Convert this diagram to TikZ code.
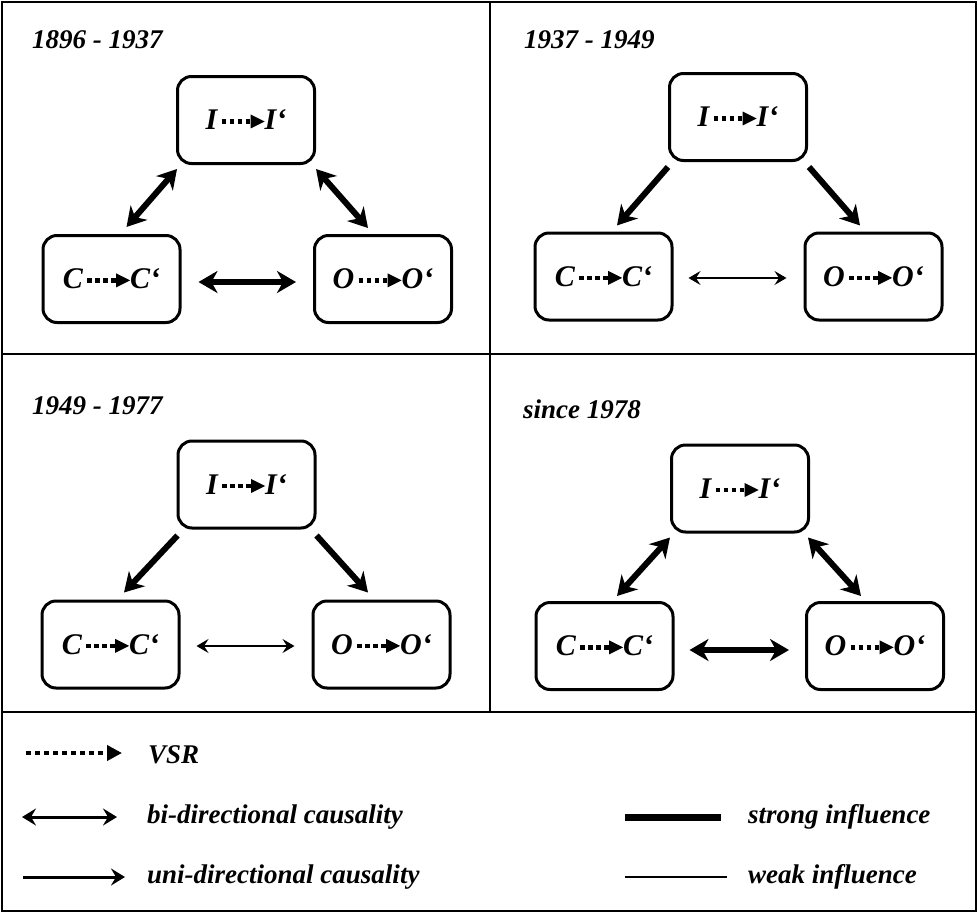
\documentclass[tikz,border=0pt]{standalone}
\usepackage{fontspec}
\setmainfont{Liberation Serif}
\usetikzlibrary{arrows.meta,calc}

\newcommand{\vsrdots}{\tikz[baseline=-8.5pt,x=1pt,y=1pt,sharp corners]{%
  \draw[line width=4.5pt,dash pattern=on 4.5pt off 3.5pt,line cap=butt] (0,0) -- (29,0);
  \fill[draw=none] (29,-7) -- (43,0) -- (29,7) -- cycle;}}
\newcommand{\boxlabel}[1]{#1\hspace{2pt}\vsrdots\hspace{0pt}#1‘}

\tikzset{
  BigS/.tip={Stealth[length=19pt,width=22pt,inset=6pt]},
  SmS/.tip={Stealth[length=12pt,width=14pt,inset=4.5pt]},
  LegS/.tip={Stealth[length=14pt,width=17pt,inset=5pt]},
  VsrT/.tip={Triangle[length=15pt,width=15pt]},
  box/.style={draw,line width=3pt,rounded corners=14pt,minimum width=137pt,
    minimum height=87pt,inner sep=0pt,
    font=\fontsize{30}{30}\selectfont\bfseries\itshape},
  title/.style={anchor=base west,inner sep=0pt,
    font=\fontsize{27}{27}\selectfont\bfseries\itshape},
  legtext/.style={anchor=base west,inner sep=0pt,
    font=\fontsize{27}{27}\selectfont\bfseries\itshape},
  frame/.style={line width=2.5pt},
  strongbi/.style={line width=6pt,BigS-BigS},
  stronguni/.style={line width=6pt,-BigS},
  weakbi/.style={line width=1.6pt,SmS-SmS},
  legbi/.style={line width=3pt,LegS-LegS},
  leguni/.style={line width=3pt,-LegS},
  legvsr/.style={line width=4.5pt,dash pattern=on 4.5pt off 4.5pt,-VsrT},
}

\begin{document}
\begin{tikzpicture}[x=1pt,y=-1pt]
\useasboundingbox (0,0) rectangle (978,913);
\fill[white] (0,0) rectangle (978,913);

% frame
\draw[frame] (2,2) rectangle (976,911);
\draw[frame] (2,354) -- (976,354);
\draw[frame] (2,712) -- (976,712);
\draw[frame] (490,2) -- (490,712);

% ---------- panel 1 ----------
\node[title] (t1) at (32,48) {1896 - 1937};
\node[box] (I1) at (246,120) {\boxlabel{I}};
\node[box] (C1) at (111.5,279) {\boxlabel{C}};
\node[box] (O1) at (383,279) {\boxlabel{O}};
\draw[strongbi] ($(C1.north)+(15,-7)$) -- ($(I1.south west)+(1,4)$);
\draw[strongbi] ($(I1.south east)+(0,4)$) -- ($(O1.north)+(-15,-6)$);
\draw[strongbi] ($(C1.east)+(17,3)$) -- ($(O1.west)+(-17,3)$);

% ---------- panel 2 ----------
\node[title] (t2) at (524,48) {1937 - 1949};
\node[box] (I2) at (738,117) {\boxlabel{I}};
\node[box] (C2) at (603.5,276.5) {\boxlabel{C}};
\node[box] (O2) at (873.5,276.5) {\boxlabel{O}};
\draw[stronguni] ($(I2.south west)+(0,5)$) -- ($(C2.north)+(13.5,-6)$);
\draw[stronguni] ($(I2.south east)+(1,5)$) -- ($(O2.north)+(-13.5,-6)$);
\draw[weakbi] ($(C2.east)+(15,1.5)$) -- ($(O2.west)+(-17,1.5)$);

% ---------- panel 3 ----------
\node[title] (t3) at (32,414) {1949 - 1977};
\node[box] (I3) at (246.5,484.5) {\boxlabel{I}};
\node[box] (C3) at (110.5,644.5) {\boxlabel{C}};
\node[box] (O3) at (381.5,644.5) {\boxlabel{O}};
\draw[stronguni] ($(I3.south west)+(1,6)$) -- ($(C3.north)+(13.5,-7)$);
\draw[stronguni] ($(I3.south east)+(0,6)$) -- ($(O3.north)+(-13.5,-7)$);
\draw[weakbi] ($(C3.east)+(16,1.5)$) -- ($(O3.west)+(-17,1.5)$);

% ---------- panel 4 ----------
\node[title] (t4) at (523,418) {since 1978};
\node[box] (I4) at (740,488.5) {\boxlabel{I}};
\node[box] (C4) at (604.5,646) {\boxlabel{C}};
\node[box] (O4) at (875,646) {\boxlabel{O}};
\draw[strongbi] ($(C4.north)+(12.5,-5)$) -- ($(I4.south west)+(0,4)$);
\draw[strongbi] ($(I4.south east)+(-2,4)$) -- ($(O4.north)+(-14,-5)$);
\draw[strongbi] ($(C4.east)+(15,4)$) -- ($(O4.west)+(-16,4)$);

% ---------- legend ----------
\coordinate (v1) at (26,753);
\coordinate (v2) at (122,753);
\draw[legvsr] (v1) -- (v2);
\node[legtext] (l1) at (148,763) {VSR};

\coordinate (b1) at (22,817);
\coordinate (b2) at (117,817);
\draw[legbi] (b1) -- (b2);
\node[legtext] (l2) at (147,823) {bi-directional causality};

\coordinate (u1) at (23,877);
\coordinate (u2) at (125,877);
\draw[leguni] (u1) -- (u2);
\node[legtext] (l3) at (147,883) {uni-directional causality};

\coordinate (s1) at (625,817);
\coordinate (s2) at (721,817);
\draw[line width=7pt] (s1) -- (s2);
\node[legtext] (l4) at (748,823) {strong influence};

\coordinate (w1) at (625,877);
\coordinate (w2) at (727,877);
\draw[line width=1.6pt] (w1) -- (w2);
\node[legtext] (l5) at (748,883) {weak influence};
\end{tikzpicture}
\end{document}
